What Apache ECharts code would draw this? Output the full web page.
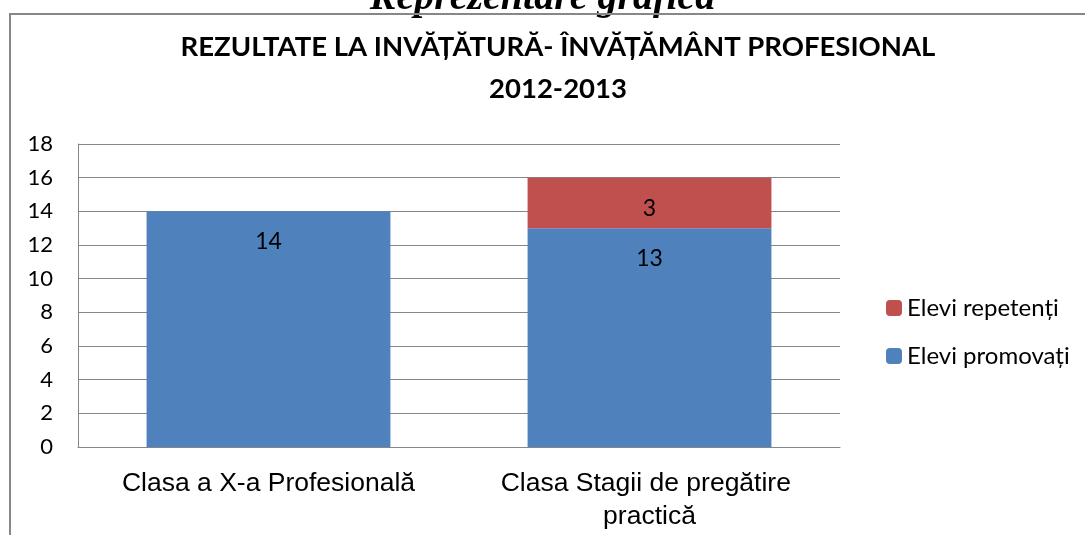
<!DOCTYPE html>
<html>
<head>
<meta charset="utf-8">
<script src="https://cdn.jsdelivr.net/npm/echarts@6/dist/echarts.min.js"></script>
<style>
  html, body { margin: 0; padding: 0; background: #fff; }
  #chart { width: 1085px; height: 535px; }
</style>
</head>
<body>
<div id="chart"></div>
<script>
// date
const categories = ['Clasa a X-a Profesională', 'Clasa Stagii de pregătire practică']
const promovati = [14, 13]
const repetenti = [null, 3]
const seriesNames = ['Elevi promovați', 'Elevi repetenți']
const yTicks = { min: 0, max: 18, interval: 2 }

let chart = echarts.init(document.getElementById('chart'))

const labelStyle = {
  show: true,
  position: 'insideTop',
  distance: 19,
  color: '#000',
  fontFamily: 'Lato',
  fontSize: 23
}

chart.setOption({
  animation: false,
  backgroundColor: '#fff',
  graphic: [
    {
      type: 'text',
      left: 'center',
      top: -21,
      z: 1,
      style: {
        text: 'Reprezentare grafică',
        font: 'italic bold 40px "Liberation Serif"',
        fill: '#000'
      }
    },
    {
      type: 'rect',
      z: 5,
      shape: { x: 10, y: 14, width: 1200, height: 600 },
      style: { fill: 'none', stroke: '#878787', lineWidth: 2 }
    }
  ],
  title: {
    text: 'REZULTATE LA INVĂȚĂTURĂ- ÎNVĂȚĂMÂNT PROFESIONAL\n2012-2013',
    left: 553,
    top: 21,
    textAlign: 'center',
    textStyle: {
      fontFamily: 'Lato',
      fontWeight: 'bold',
      fontSize: 27.5,
      lineHeight: 42,
      color: '#000'
    }
  },
  legend: {
    orient: 'vertical',
    left: 881,
    top: 291,
    itemWidth: 16,
    itemHeight: 16,
    itemGap: 24,
    data: [seriesNames[1], seriesNames[0]],
    textStyle: { fontFamily: 'Lato', fontSize: 24, color: '#000' }
  },
  grid: { left: 78, right: 245, top: 144, bottom: 88 },
  xAxis: {
    type: 'category',
    data: categories,
    axisLine: { lineStyle: { color: '#868686', width: 1 } },
    axisTick: { show: false },
    axisLabel: {
      color: '#000',
      fontFamily: 'Liberation Sans',
      fontSize: 26.5,
      lineHeight: 33,
      margin: 20,
      width: 340,
      overflow: 'break',
      interval: 0
    }
  },
  yAxis: {
    type: 'value',
    min: yTicks.min,
    max: yTicks.max,
    interval: yTicks.interval,
    axisLine: { show: true, lineStyle: { color: '#868686', width: 1 } },
    axisTick: { show: false },
    splitLine: { lineStyle: { color: '#868686', width: 1 } },
    axisLabel: { color: '#000', fontFamily: 'Lato', fontSize: 22, margin: 25 }
  },
  series: [
    {
      name: seriesNames[0],
      type: 'bar',
      stack: 'total',
      barWidth: '64%',
      itemStyle: { color: '#4F81BD' },
      label: labelStyle,
      data: promovati
    },
    {
      name: seriesNames[1],
      type: 'bar',
      stack: 'total',
      barWidth: '64%',
      itemStyle: { color: '#C0504D' },
      label: labelStyle,
      data: repetenti
    }
  ]
})
</script>
</body>
</html>
